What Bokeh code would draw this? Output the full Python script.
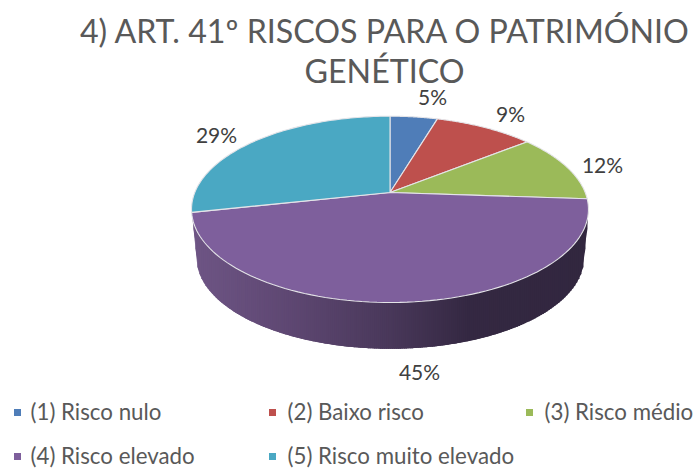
import math
import numpy as np
from bokeh.plotting import figure
from bokeh.models import Range1d
from bokeh.core.properties import value
from bokeh.embed import file_html
from bokeh.resources import INLINE

title_lines = ["4) ART. 41º RISCOS PARA O PATRIMÓNIO", "GENÉTICO"]
categories = ["(1) Risco nulo", "(2) Baixo risco", "(3) Risco médio", "(4) Risco elevado", "(5) Risco muito elevado"]
shares = [4.6, 9.65, 11.85, 45.5, 28.4]
share_labels = ["5%", "9%", "12%", "45%", "29%"]
colors = ["#4F7DB8", "#BE504D", "#9BBA59", "#7E5F9C", "#4AA8C3"]

FONT = "Lato"
TXT = "#595959"
LBL = "#404040"

p = figure(width=693, height=470, x_range=Range1d(0, 693), y_range=Range1d(470, 0),
           output_backend="svg", toolbar_location=None, min_border=0)
p.axis.visible = False
p.grid.visible = False
p.outline_line_color = None
p.background_fill_color = "white"
p.border_fill_color = "white"

CX, CY, R, S, K = 389.5, 192.0, 195.2, 90.1, 0.181
F2, CY2 = 0.975, 241.0


def proj(theta, f=1.0, cy=CY):
    u, v = math.sin(theta), math.cos(theta)
    w = 1 + K * v
    return CX + f * R * u / w, cy - f * S * v / w


def arc(t0, t1, f=1.0, cy=CY, n=90):
    pts = [proj(t0 + (t1 - t0) * i / n, f, cy) for i in range(n + 1)]
    return [a for a, _ in pts], [b for _, b in pts]


# front arcs, left to right, between the widest points of each face
T_R = math.pi - math.acos(K)
T_L = math.pi + math.acos(K)
tx, ty = arc(T_L, T_R, n=800)
bx, by = arc(T_L, T_R, F2, CY2, n=800)
xmin, xmax = tx[0], tx[-1]
bmin, bmax = bx[0], bx[-1]


def y_top(x):
    return float(np.interp(x, tx, ty))


def y_bot(x):
    if x < bmin:
        return ty[0] + (by[0] - ty[0]) * (x - xmin) / (bmin - xmin)
    if x > bmax:
        return ty[-1] + (by[-1] - ty[-1]) * (xmax - x) / (xmax - bmax)
    return float(np.interp(x, bx, by))


stops = [(0.0, (0x6E, 0x55, 0x85)), (0.25, (0x5E, 0x47, 0x72)), (0.5, (0x49, 0x38, 0x5A)),
         (0.7, (0x34, 0x28, 0x42)), (1.0, (0x32, 0x27, 0x3F))]


def grad(t):
    for (t0, c0), (t1, c1) in zip(stops, stops[1:]):
        if t <= t1:
            m = (t - t0) / (t1 - t0)
            return "#%02x%02x%02x" % tuple(round(a + (b - a) * m) for a, b in zip(c0, c1))
    return "#32273f"


sx, sy, sc = [], [], []
n_strips = 200
edges = [xmin + (xmax - xmin) * i / n_strips for i in range(n_strips + 1)]
for a, b in zip(edges, edges[1:]):
    sx.append([a, b, b, a])
    sy.append([y_top(a) - 3, y_top(b) - 3, y_bot(b), y_bot(a)])
    sc.append(grad(((a + b) / 2 - xmin) / (xmax - xmin)))
p.patches(sx, sy, fill_color=sc, line_color=None)
# overlap strips to hide anti-aliasing seams
p.patches([[a, b + 1, b + 1, a] for a, b in zip(edges[:-1], edges[1:-1] + [edges[-1] - 1])], sy,
          fill_color=sc, line_color=None)

# top face
total = sum(shares)
cum = 0.0
for share, col in zip(shares, colors):
    t0 = cum / total * 2 * math.pi
    cum += share
    t1 = cum / total * 2 * math.pi
    ax, ay = arc(t0, t1)
    p.patch([CX] + ax, [CY] + ay, fill_color=col, line_color="#e4e4e8", line_width=1.1)

# data labels
lx = [432, 510, 602, 419, 216]
ly = [95.5, 112.5, 163.5, 370.5, 133.5]
p.text(lx, ly, text=share_labels, text_font=value(FONT), text_font_size="21px", text_color=LBL,
       text_align="center", text_baseline="middle")

# title
p.text([385, 384], [29.5, 69.5], text=title_lines, text_font=value(FONT), text_font_size="32.2px",
       text_color=TXT, text_align="center", text_baseline="middle")

# legend
mx = [17, 272, 529, 17, 272]
my = [412, 412, 412, 456, 456]
tx_leg = [30, 287, 544, 30, 287]
p.scatter(mx, my, marker="square", size=7, fill_color=colors, line_color=None)
p.text(tx_leg, [m - 1.5 for m in my], text=categories, text_font=value(FONT), text_font_size="22.3px",
       text_color=TXT, text_align="left", text_baseline="middle")

open("out.html", "w").write(file_html(p, INLINE))
